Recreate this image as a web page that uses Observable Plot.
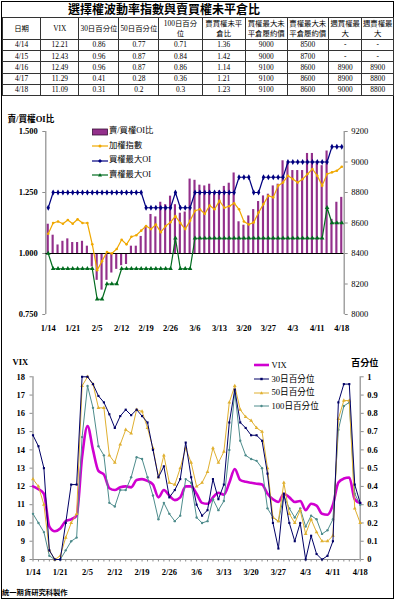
<!DOCTYPE html>
<html><head><meta charset="utf-8">
<script src="https://cdn.jsdelivr.net/npm/d3@7"></script>
<script src="https://cdn.jsdelivr.net/npm/@observablehq/plot@0.6"></script>
<style>
body{margin:0;background:#fff;}
#root{position:relative;width:394px;height:600px;overflow:hidden;background:#fff;font-family:"Liberation Serif","Noto Sans CJK TC",serif;color:#000;}
#frame{position:absolute;left:1px;top:1px;width:391px;height:596px;border:1px solid #000;}
.abs{position:absolute;white-space:nowrap;}
table.t{position:absolute;left:2px;top:17px;border-collapse:collapse;table-layout:fixed;font-size:7.4px;}
table.t td{border:1px solid #333;text-align:center;vertical-align:middle;padding:0;line-height:1.25;overflow:hidden;}
</style></head><body><div id="root"><div id="frame"></div></div>
<script>
// ---------- data ----------
const dates = ["1/14","1/15","1/16","1/17","1/20","1/21","1/22","1/23","1/24","1/27",
"2/5","2/6","2/7","2/10","2/11","2/12","2/13","2/14","2/17","2/18","2/19","2/20","2/21",
"2/24","2/25","2/26","2/27","3/3","3/4","3/5","3/6","3/7","3/10","3/11","3/12","3/13","3/14",
"3/17","3/18","3/19","3/20","3/21","3/24","3/25","3/26","3/27","3/28","3/31","4/1","4/2","4/3",
"4/7","4/8","4/9","4/10","4/11","4/14","4/15","4/16","4/17","4/18"];
const xTickLabels = ["1/14","1/21","2/5","2/12","2/19","2/26","3/6","3/13","3/20","3/27","4/3","4/11","4/18"];

// 賣/買權OI比 (bars, left axis)
const oiRatio = [1.12,1.075,1.035,1.05,1.06,1.045,1.045,1.05,1.03,0.945,
0.89,0.85,0.89,0.92,0.935,0.95,0.955,1.03,1.03,1.07,1.11,1.16,1.15,1.21,1.2,1.235,1.2,
1.165,1.17,1.305,1.3,1.28,1.277,1.284,1.25,1.257,1.275,1.288,1.33,1.13,1.116,1.154,1.18,1.213,
1.236,1.243,1.277,1.284,1.38,1.37,1.34,1.34,1.34,1.41,1.41,1.37,1.36,1.42,1.14,1.21,1.23];
// 加權指數 (right axis)
const taiex = [8530,8600,8610,8595,8620,8595,8625,8600,8600,8460,
8290,8350,8410,8400,8430,8490,8460,8510,8520,8550,8580,8560,8590,8540,8580,8605,8645,
8600,8560,8615,8680,8690,8660,8715,8690,8745,8700,8710,8730,8690,8610,8590,8604,8669,
8724,8779,8768,8845,8866,8910,8888,8866,8888,8921,8954,8910,8845,8921,8932,8943,8969];
// 買權最大OI (right axis)
const callMaxOI = [8700,8800,8800,8800,8800,8800,8800,8800,8800,8800,8800,8800,8800,8800,8800,8800,8800,8800,8800,8800,
8700,8700,8700,8700,8700,8700,8800,8700,8700,8700,8800,8800,8800,8800,8800,8800,8800,8800,8800,
8900,8900,8900,8800,8800,8900,8900,8900,8900,8900,9000,9000,9000,9000,9000,9000,9000,9000,9000,9100,9100,9100];
// 賣權最大OI (right axis)
const putMaxOI = [8400,8300,8300,8300,8300,8300,8300,8300,8300,8300,8100,8100,8200,8200,8200,
8300,8300,8300,8300,8300,8300,8300,8300,8300,8300,8300,8500,8300,8300,8300,
8500,8500,8500,8500,8500,8500,8500,8500,8500,8500,8500,8500,8500,8500,8500,8500,8500,8500,8500,8500,
8500,8500,8500,8500,8500,8500,8500,8700,8600,8600,8600];

// VIX (left axis) and percentiles (right axis)
const vix = [12.0,11.85,11.6,9.8,9.55,9.7,10.1,10.2,10.4,13.6,15.3,14.0,12.85,12.65,11.9,11.8,11.95,12.0,11.95,12.35,
12.4,12.3,12.1,11.4,11.8,11.5,11.25,11.4,12.0,12.0,11.6,11.1,11.05,11.4,11.65,11.55,12.2,12.95,12.35,12.25,
12.2,12.15,12.1,11.6,11.3,11.15,11.6,11.4,11.15,11.2,10.7,11.05,10.95,10.5,10.45,11.0,12.21,12.43,12.49,11.29,11.09];
const pct30 = [0.68,0.62,0.5,0.05,0.0,0.0,0.2,0.41,0.41,1.0,1.0,0.96,0.895,0.86,0.795,0.72,0.785,0.82,0.79,0.82,
0.785,0.75,0.6,0.45,0.51,0.34,0.38,0.44,0.64,0.45,0.3,0.24,0.27,0.44,0.33,0.41,0.75,0.93,0.75,0.72,
0.68,0.68,0.65,0.47,0.2,0.06,0.36,0.2,0.1,0.2,0.0,0.13,0.03,0.0,0.02,0.1,0.86,0.96,0.96,0.41,0.31];
const pct50 = [0.44,0.4,0.3,0.05,0.0,0.02,0.12,0.2,0.25,0.95,1.0,0.96,0.83,0.83,0.57,0.53,0.63,0.71,0.69,0.82,
0.81,0.72,0.61,0.45,0.57,0.42,0.41,0.5,0.61,0.53,0.4,0.42,0.48,0.61,0.53,0.59,0.86,0.95,0.82,0.78,
0.76,0.72,0.7,0.5,0.23,0.21,0.42,0.25,0.2,0.27,0.14,0.22,0.15,0.1,0.1,0.13,0.77,0.87,0.87,0.28,0.2];
const pct100 = [0.25,0.2,0.15,0.02,0.0,0.0,0.05,0.1,0.12,0.67,0.95,0.83,0.62,0.57,0.31,0.29,0.38,0.38,0.45,0.56,
0.55,0.45,0.35,0.22,0.31,0.25,0.21,0.24,0.44,0.42,0.23,0.2,0.21,0.33,0.27,0.32,0.6,0.92,0.65,0.57,
0.55,0.54,0.5,0.28,0.23,0.21,0.35,0.28,0.23,0.28,0.18,0.24,0.22,0.14,0.16,0.22,0.71,0.84,0.86,0.36,0.3];

// table
const tableHeader = [["日期"],["VIX"],["30日百分位"],["50日百分位"],["100日百分","位"],["賣買權未平","倉比"],["買權最大未","平倉履約價"],["賣權最大未","平倉履約價"],["週買權最","大"],["週賣權最","大"]];
const tDate = ["4/14","4/15","4/16","4/17","4/18"];
const tVix = ["12.21","12.43","12.49","11.29","11.09"];
const t30 = ["0.86","0.96","0.96","0.41","0.31"];
const t50 = ["0.77","0.87","0.87","0.28","0.2"];
const t100 = ["0.71","0.84","0.86","0.36","0.3"];
const tPC = ["1.36","1.42","1.14","1.21","1.23"];
const tCallStrike = ["9000","9000","9100","9100","9100"];
const tPutStrike = ["8500","8700","8600","8600","8600"];
const tWeekCall = ["-","-","8900","8900","9000"];
const tWeekPut = ["-","-","8900","8800","8800"];

const title = "選擇權波動率指數與賣買權未平倉比";
const footer = "統一期貨研究科製作";

// ---------- layout ----------
const root = document.getElementById("root");
const FONT = '"Liberation Serif","Noto Sans CJK TC",serif';
function txt(s, x, y, size, opts={}) {
  const d = document.createElement("div");
  d.className = "abs";
  d.textContent = s;
  d.style.left = x + "px"; d.style.top = (y - size*0.62) + "px";
  d.style.fontSize = size + "px"; d.style.lineHeight = (size*1.24) + "px";
  if (opts.bold) d.style.fontWeight = "bold";
  if (opts.ls) d.style.letterSpacing = opts.ls + "px";
  root.appendChild(d); return d;
}
txt(title, 68, 10, 12, {bold:true});

// table
const colW = [38.3,38.3,40,40,43.4,43.3,41.7,41.6,33.4,31.6];
const tbl = document.createElement("table"); tbl.className = "t";
const cg = document.createElement("colgroup");
colW.forEach(w => { const c = document.createElement("col"); c.style.width = w + "px"; cg.appendChild(c); });
tbl.appendChild(cg);
const hr = document.createElement("tr"); hr.style.height = "22px";
tableHeader.forEach(lines => { const td = document.createElement("td"); td.innerHTML = lines.join("<br>"); hr.appendChild(td); });
tbl.appendChild(hr);
const cols = [tDate,tVix,t30,t50,t100,tPC,tCallStrike,tPutStrike,tWeekCall,tWeekPut];
for (let r = 0; r < tDate.length; r++) {
  const tr = document.createElement("tr"); tr.style.height = "11.2px";
  cols.forEach(c => { const td = document.createElement("td"); td.textContent = c[r]; tr.appendChild(td); });
  tbl.appendChild(tr);
}
root.appendChild(tbl);

const idx = d3.range(dates.length);
const xTicks = xTickLabels.map(l => dates.indexOf(l));
const style = {background:"transparent", fontFamily:FONT, fontSize:"8.5px", color:"#000", overflow:"visible"};
function place(svg, top) { svg.style.position = "absolute"; svg.style.left = "0px"; svg.style.top = top + "px"; root.appendChild(svg); }

// ---------- upper chart ----------
const U = {width:394, height:230, marginTop:21, marginBottom:26, marginLeft:45.3, marginRight:50.3, style};
const upL = Plot.plot({
  ...U,
  x:{type:"linear", domain:[-0.5,60.5], axis:null},
  y:{domain:[0.75,1.5], axis:null},
  marks:[
    Plot.ruleX([-0.5], {y1:0.75, y2:1.5, stroke:"#8c8c8c", strokeWidth:1.2}),
    Plot.axisY({ticks:[0.75,1,1.25,1.5], tickFormat:d3.format(".3f"), tickSize:3, tickPadding:5, anchor:"left", fontWeight:"bold", stroke:"#8c8c8c"}),
    Plot.axisX({ticks:xTicks, tickFormat:i => dates[i], tickSize:0, tickPadding:10, anchor:"bottom", fontWeight:"bold"}),
    Plot.rectY(idx, {x1:i => i - 0.22, x2:i => i + 0.22, y1:1, y2:i => oiRatio[i], fill:"#93308b"}),
    Plot.ruleY([1], {stroke:"#000", strokeWidth:1})
  ]
});
place(upL, 110);
const upR = Plot.plot({
  ...U,
  x:{type:"linear", domain:[-0.5,60.5], axis:null},
  y:{domain:[8000,9200], axis:null},
  marks:[
    Plot.ruleX([60.5], {y1:8000, y2:9200, stroke:"#8c8c8c", strokeWidth:1.2}),
    Plot.axisY({ticks:d3.range(8000,9201,200), tickFormat:d => String(d), tickSize:3, tickPadding:4, anchor:"right", stroke:"#8c8c8c"}),
    Plot.line(idx, {x:i => i, y:i => putMaxOI[i], stroke:"#006b1e", strokeWidth:1.2}),
    Plot.dot(idx, {x:i => i, y:i => putMaxOI[i], symbol:"triangle", r:1.7, fill:"#006b1e"}),
    Plot.line(idx, {x:i => i, y:i => taiex[i], stroke:"#f0a800", strokeWidth:1.2}),
    Plot.dot(idx, {x:i => i, y:i => taiex[i], r:1.3, fill:"#f0a800"}),
    Plot.line(idx, {x:i => i, y:i => callMaxOI[i], stroke:"#000080", strokeWidth:1.2}),
    Plot.dot(idx, {x:i => i, y:i => callMaxOI[i], symbol:"diamond", r:1.8, fill:"#000080"})
  ]
});
place(upR, 110);

// ---------- lower chart ----------
const L = {width:394, height:245, marginTop:36.3, marginBottom:26, marginLeft:32.5, marginRight:34.3, style};
const loL = Plot.plot({
  ...L,
  x:{type:"linear", domain:[0,60], axis:null},
  y:{domain:[8,18], axis:null},
  marks:[
    Plot.ruleX([0], {y1:8, y2:18, stroke:"#8c8c8c", strokeWidth:1.2}),
    Plot.ruleY([8], {stroke:"#8c8c8c", strokeWidth:1.2}),
    Plot.axisY({ticks:d3.range(8,19), tickSize:3, tickPadding:5, anchor:"left", fontWeight:"bold", stroke:"#8c8c8c"}),
    Plot.axisX({ticks:idx, tickFormat:() => "", tickSize:2.5, anchor:"bottom", stroke:"#8c8c8c"}),
    Plot.axisX({ticks:xTicks, tickFormat:i => dates[i], tickSize:0, tickPadding:9.5, anchor:"bottom", fontWeight:"bold"}),
    Plot.line(idx, {x:i => i, y:i => vix[i], stroke:"#d000d0", strokeWidth:2.6, curve:"monotone-x"})
  ]
});
place(loL, 340);
const loR = Plot.plot({
  ...L,
  x:{type:"linear", domain:[0,60], axis:null},
  y:{domain:[0,1], axis:null},
  marks:[
    Plot.ruleX([60], {y1:0, y2:1, stroke:"#8c8c8c", strokeWidth:1.2}),
    Plot.axisY({ticks:d3.range(0,1.01,0.1), tickFormat:d => d3.format("~g")(+d.toFixed(1)), tickSize:3, tickPadding:4, anchor:"right", fontWeight:"bold", stroke:"#8c8c8c"}),
    Plot.line(idx, {x:i => i, y:i => pct100[i], stroke:"#4e8c8c", strokeWidth:1}),
    Plot.dot(idx, {x:i => i, y:i => pct100[i], r:1.2, fill:"#4e8c8c"}),
    Plot.line(idx, {x:i => i, y:i => pct50[i], stroke:"#e0b030", strokeWidth:1}),
    Plot.dot(idx, {x:i => i, y:i => pct50[i], symbol:"triangle", r:1.4, fill:"#e0b030"}),
    Plot.line(idx, {x:i => i, y:i => pct30[i], stroke:"#000066", strokeWidth:1}),
    Plot.dot(idx, {x:i => i, y:i => pct30[i], symbol:"square", r:1.2, fill:"#000066"})
  ]
});
place(loR, 340);

// ---------- titles, legends ----------
txt("賣/買權OI比", 7.5, 119.5, 8.6, {bold:true});
txt("VIX", 12.5, 362.5, 8.5, {bold:true});
txt("百分位", 351, 364, 9.2, {bold:true});
txt(footer, 2, 593, 7.3, {bold:true});

function legend(items, x0, textX, ys, size) {
  items.forEach((it, k) => {
    const y = ys[k];
    const s = document.createElementNS("http://www.w3.org/2000/svg","svg");
    s.setAttribute("width", 18); s.setAttribute("height", 10);
    s.style.position = "absolute"; s.style.left = x0 + "px"; s.style.top = (y - 5) + "px";
    s.innerHTML = it.swatch;
    root.appendChild(s);
    txt(it.label, textX, y, size);
  });
}
legend([
  {label:"賣/買權OI比", swatch:'<rect x="0.5" y="2" width="15" height="6" fill="#93308b" stroke="#3a0f38" stroke-width="0.8"/>'},
  {label:"加權指數", swatch:'<line x1="0" x2="16" y1="5" y2="5" stroke="#f0a800" stroke-width="1.2"/><circle cx="8" cy="5" r="1.5" fill="#f0a800"/>'},
  {label:"買權最大OI", swatch:'<line x1="0" x2="16" y1="5" y2="5" stroke="#000080" stroke-width="1.2"/><path d="M8,3 L10,5 L8,7 L6,5Z" fill="#000080"/>'},
  {label:"賣權最大OI", swatch:'<line x1="0" x2="16" y1="5" y2="5" stroke="#006b1e" stroke-width="1.2"/><path d="M8,3 L10,6.5 L6,6.5Z" fill="#006b1e"/>'}
], 92, 109, [131.5, 146, 160.5, 175], 8.3);
legend([
  {label:"VIX", swatch:'<line x1="0" x2="15" y1="5" y2="5" stroke="#d000d0" stroke-width="2.6"/>'},
  {label:"30日百分位", swatch:'<line x1="0" x2="15" y1="5" y2="5" stroke="#000066" stroke-width="1"/><rect x="6.3" y="3.8" width="2.4" height="2.4" fill="#000066"/>'},
  {label:"50日百分位", swatch:'<line x1="0" x2="15" y1="5" y2="5" stroke="#e0b030" stroke-width="1"/><path d="M7.5,3.3 L9.2,6.3 L5.8,6.3Z" fill="#e0b030"/>'},
  {label:"100日百分位", swatch:'<line x1="0" x2="15" y1="5" y2="5" stroke="#4e8c8c" stroke-width="1"/><circle cx="7.5" cy="5" r="1.2" fill="#4e8c8c"/>'}
], 254, 271.5, [365, 379, 392.8, 406], 8.6);
</script></body></html>
